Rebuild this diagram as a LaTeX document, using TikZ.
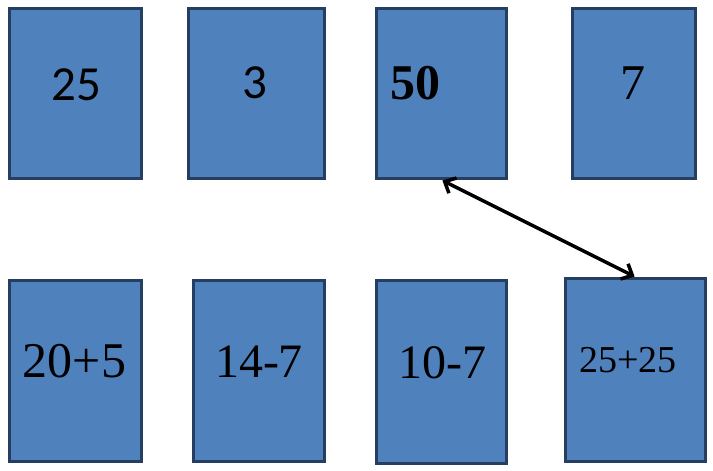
\documentclass[tikz,border=0pt]{standalone}
\usepackage{fontspec}
\setmainfont{Liberation Serif}
\newfontfamily\calib{Carlito}
\usetikzlibrary{arrows.meta}
\definecolor{cardfill}{HTML}{4F81BD}
\definecolor{cardline}{RGB}{38,62,98}
\tikzset{
  card/.style={rectangle, fill=cardfill, draw=cardline, line width=3pt, inner sep=0pt},
  num/.style={inner sep=0pt, anchor=base, text=black},
  link/.style={line width=3.5pt, {Straight Barb[length=9pt,width=17pt]}-{Straight Barb[length=9pt,width=17pt]}, shorten <=1pt, shorten >=1pt}
}
\begin{document}
\begin{tikzpicture}[x=1pt,y=1pt]
\useasboundingbox (0,0) rectangle (713,-471);
% top row
\node[card, minimum width=132pt, minimum height=170pt] (b1) at (75.5,-93.5) {};
\node[card, minimum width=136pt, minimum height=170pt] (b2) at (256.5,-93.5) {};
\node[card, minimum width=130pt, minimum height=170pt] (b3) at (441.5,-93.5) {};
\node[card, minimum width=123pt, minimum height=170pt] (b4) at (634,-93.5) {};
% bottom row
\node[card, minimum width=132pt, minimum height=181pt] (b5) at (75.5,-371) {};
\node[card, minimum width=131pt, minimum height=181pt] (b6) at (259,-371) {};
\node[card, minimum width=130pt, minimum height=183pt] (b7) at (441.5,-372) {};
\node[card, minimum width=140pt, minimum height=183pt] (b8) at (635.5,-370) {};
% texts
\node[num] (t1) at (76,-100) {\calib\fontsize{49}{49}\selectfont 25};
\node[num] (t2) at (255,-98) {\calib\fontsize{49}{49}\selectfont 3};
\node[num, anchor=base west] (t3) at (390,-99) {\fontsize{50}{50}\selectfont\bfseries 50};
\node[num] (t4) at (633,-99) {\fontsize{50}{50}\selectfont 7};
\node[num] (t5) at (74.5,-377) {\fontsize{50}{50}\selectfont 20+5};
\node[num] (t6) at (259,-377) {\fontsize{48}{48}\selectfont 14-7};
\node[num] (t7) at (442.5,-378) {\fontsize{48}{48}\selectfont 10-7};
\node[num] (t8) at (628,-372) {\fontsize{38}{38}\selectfont 25+25};
% connector
\draw[link] (b3.south) -- (b8.north);
\end{tikzpicture}
\end{document}
